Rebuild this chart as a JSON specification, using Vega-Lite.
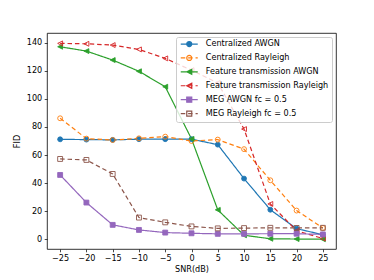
{
  "$schema": "https://vega.github.io/schema/vega-lite/v6.json",
  "width": 289,
  "height": 216,
  "autosize": {"type": "none"},
  "padding": {"left": 47, "top": 33, "right": 38, "bottom": 31},
  "background": "white",
  "config": {
    "font": "DejaVu Sans",
    "view": {"stroke": "black", "strokeWidth": 0.8},
    "axis": {
      "grid": false, "domain": false, "tickColor": "black", "tickSize": 2.8, "tickWidth": 0.7,
      "labelFont": "DejaVu Sans", "labelFontSize": 8.1, "labelColor": "black", "labelPadding": 2.5,
      "titleFont": "DejaVu Sans", "titleFontSize": 8.1, "titleFontWeight": "normal", "titleColor": "black"
    },
    "legend": {
      "orient": "top-right", "offset": 4, "padding": 3, "fillColor": "rgba(255,255,255,0.8)",
      "strokeColor": "#cccccc", "cornerRadius": 2, "labelFont": "DejaVu Sans", "labelFontSize": 8.1,
      "labelColor": "black", "symbolSize": 25, "symbolStrokeWidth": 1.2, "symbolOffset": 6.2,
      "labelOffset": 12.5, "rowPadding": 3.9, "labelLimit": 300
    }
  },
  "data": {"values": [
    {"snr": -25, "fid": 71.2, "series": "Centralized AWGN"},
    {"snr": -20, "fid": 71.0, "series": "Centralized AWGN"},
    {"snr": -15, "fid": 70.8, "series": "Centralized AWGN"},
    {"snr": -10, "fid": 71.3, "series": "Centralized AWGN"},
    {"snr": -5, "fid": 71.3, "series": "Centralized AWGN"},
    {"snr": 0, "fid": 71.3, "series": "Centralized AWGN"},
    {"snr": 5, "fid": 67.4, "series": "Centralized AWGN"},
    {"snr": 10, "fid": 43.2, "series": "Centralized AWGN"},
    {"snr": 15, "fid": 21.0, "series": "Centralized AWGN"},
    {"snr": 20, "fid": 7.5, "series": "Centralized AWGN"},
    {"snr": 25, "fid": 3.2, "series": "Centralized AWGN"},
    {"snr": -25, "fid": 86.2, "series": "Centralized Rayleigh"},
    {"snr": -20, "fid": 71.7, "series": "Centralized Rayleigh"},
    {"snr": -15, "fid": 70.7, "series": "Centralized Rayleigh"},
    {"snr": -10, "fid": 71.9, "series": "Centralized Rayleigh"},
    {"snr": -5, "fid": 73.1, "series": "Centralized Rayleigh"},
    {"snr": 0, "fid": 70.0, "series": "Centralized Rayleigh"},
    {"snr": 5, "fid": 71.0, "series": "Centralized Rayleigh"},
    {"snr": 10, "fid": 64.2, "series": "Centralized Rayleigh"},
    {"snr": 15, "fid": 42.0, "series": "Centralized Rayleigh"},
    {"snr": 20, "fid": 20.4, "series": "Centralized Rayleigh"},
    {"snr": 25, "fid": 8.0, "series": "Centralized Rayleigh"},
    {"snr": -25, "fid": 137.2, "series": "Feature transmission AWGN"},
    {"snr": -20, "fid": 134.1, "series": "Feature transmission AWGN"},
    {"snr": -15, "fid": 127.7, "series": "Feature transmission AWGN"},
    {"snr": -10, "fid": 119.7, "series": "Feature transmission AWGN"},
    {"snr": -5, "fid": 108.7, "series": "Feature transmission AWGN"},
    {"snr": 0, "fid": 71.5, "series": "Feature transmission AWGN"},
    {"snr": 5, "fid": 20.9, "series": "Feature transmission AWGN"},
    {"snr": 10, "fid": 2.8, "series": "Feature transmission AWGN"},
    {"snr": 15, "fid": 0.3, "series": "Feature transmission AWGN"},
    {"snr": 20, "fid": 0.1, "series": "Feature transmission AWGN"},
    {"snr": 25, "fid": 0.0, "series": "Feature transmission AWGN"},
    {"snr": -25, "fid": 139.6, "series": "Feature transmission Rayleigh"},
    {"snr": -20, "fid": 139.3, "series": "Feature transmission Rayleigh"},
    {"snr": -15, "fid": 138.4, "series": "Feature transmission Rayleigh"},
    {"snr": -10, "fid": 135.3, "series": "Feature transmission Rayleigh"},
    {"snr": -5, "fid": 128.9, "series": "Feature transmission Rayleigh"},
    {"snr": 0, "fid": 120.5, "series": "Feature transmission Rayleigh"},
    {"snr": 5, "fid": 111.4, "series": "Feature transmission Rayleigh"},
    {"snr": 10, "fid": 78.5, "series": "Feature transmission Rayleigh"},
    {"snr": 15, "fid": 25.1, "series": "Feature transmission Rayleigh"},
    {"snr": 20, "fid": 6.0, "series": "Feature transmission Rayleigh"},
    {"snr": 25, "fid": 0.5, "series": "Feature transmission Rayleigh"},
    {"snr": -25, "fid": 45.8, "series": "MEG AWGN fc = 0.5"},
    {"snr": -20, "fid": 26.1, "series": "MEG AWGN fc = 0.5"},
    {"snr": -15, "fid": 10.2, "series": "MEG AWGN fc = 0.5"},
    {"snr": -10, "fid": 6.6, "series": "MEG AWGN fc = 0.5"},
    {"snr": -5, "fid": 4.7, "series": "MEG AWGN fc = 0.5"},
    {"snr": 0, "fid": 4.2, "series": "MEG AWGN fc = 0.5"},
    {"snr": 5, "fid": 3.8, "series": "MEG AWGN fc = 0.5"},
    {"snr": 10, "fid": 3.8, "series": "MEG AWGN fc = 0.5"},
    {"snr": 15, "fid": 3.9, "series": "MEG AWGN fc = 0.5"},
    {"snr": 20, "fid": 3.9, "series": "MEG AWGN fc = 0.5"},
    {"snr": 25, "fid": 3.4, "series": "MEG AWGN fc = 0.5"},
    {"snr": -25, "fid": 57.2, "series": "MEG Rayleigh fc = 0.5"},
    {"snr": -20, "fid": 56.5, "series": "MEG Rayleigh fc = 0.5"},
    {"snr": -15, "fid": 46.5, "series": "MEG Rayleigh fc = 0.5"},
    {"snr": -10, "fid": 15.4, "series": "MEG Rayleigh fc = 0.5"},
    {"snr": -5, "fid": 12.0, "series": "MEG Rayleigh fc = 0.5"},
    {"snr": 0, "fid": 9.1, "series": "MEG Rayleigh fc = 0.5"},
    {"snr": 5, "fid": 7.7, "series": "MEG Rayleigh fc = 0.5"},
    {"snr": 10, "fid": 7.9, "series": "MEG Rayleigh fc = 0.5"},
    {"snr": 15, "fid": 8.1, "series": "MEG Rayleigh fc = 0.5"},
    {"snr": 20, "fid": 8.0, "series": "MEG Rayleigh fc = 0.5"},
    {"snr": 25, "fid": 8.1, "series": "MEG Rayleigh fc = 0.5"}
  ]},
  "encoding": {
    "x": {"field": "snr", "type": "quantitative",
      "scale": {"domain": [-27.5, 27.5], "nice": false, "zero": false},
      "axis": {"values": [-25, -20, -15, -10, -5, 0, 5, 10, 15, 20, 25], "title": "SNR(dB)", "titlePadding": 3}},
    "y": {"field": "fid", "type": "quantitative",
      "scale": {"domain": [-7, 147], "nice": false, "zero": false},
      "axis": {"values": [0, 20, 40, 60, 80, 100, 120, 140], "title": "FID", "titlePadding": 5}}
  },
  "layer": [
    {
      "mark": {"type": "line", "strokeWidth": 1.2},
      "encoding": {
        "stroke": {"field": "series", "type": "nominal", "legend": null,
          "scale": {"domain": ["Centralized AWGN", "Centralized Rayleigh", "Feature transmission AWGN", "Feature transmission Rayleigh", "MEG AWGN fc = 0.5", "MEG Rayleigh fc = 0.5"],
            "range": ["#1f77b4", "#ff7f0e", "#2ca02c", "#d62728", "#9467bd", "#8c564b"]}},
        "strokeDash": {"field": "series", "type": "nominal", "legend": null,
          "scale": {"domain": ["Centralized AWGN", "Centralized Rayleigh", "Feature transmission AWGN", "Feature transmission Rayleigh", "MEG AWGN fc = 0.5", "MEG Rayleigh fc = 0.5"],
            "range": [[1, 0], [4.5, 2.9], [1, 0], [4.5, 2.9], [1, 0], [4.5, 2.9]]}}
      }
    },
    {
      "mark": {"type": "point", "opacity": 1, "strokeWidth": 0.9, "size": 24},
      "encoding": {
        "stroke": {"field": "series", "type": "nominal", "legend": null,
          "scale": {"domain": ["Centralized AWGN", "Centralized Rayleigh", "Feature transmission AWGN", "Feature transmission Rayleigh", "MEG AWGN fc = 0.5", "MEG Rayleigh fc = 0.5"],
            "range": ["#1f77b4", "#ff7f0e", "#2ca02c", "#d62728", "#9467bd", "#8c564b"]}},
        "fill": {"field": "series", "type": "nominal", "legend": null,
          "scale": {"domain": ["Centralized AWGN", "Centralized Rayleigh", "Feature transmission AWGN", "Feature transmission Rayleigh", "MEG AWGN fc = 0.5", "MEG Rayleigh fc = 0.5"],
            "range": ["#1f77b4", "transparent", "#2ca02c", "transparent", "#9467bd", "transparent"]}},
        "shape": {"field": "series", "type": "nominal", "legend": null,
          "scale": {"domain": ["Centralized AWGN", "Centralized Rayleigh", "Feature transmission AWGN", "Feature transmission Rayleigh", "MEG AWGN fc = 0.5", "MEG Rayleigh fc = 0.5"],
            "range": ["circle", "circle", "M-1,0L1,-1L1,1Z", "M-1,0L1,-1L1,1Z", "square", "square"]}}
      }
    },
    {
      "transform": [{"filter": "false"}],
      "mark": {"type": "point", "opacity": 1, "strokeWidth": 1.2},
      "encoding": {
        "stroke": {"field": "series", "type": "nominal", "title": null,
          "scale": {"domain": ["Centralized AWGN", "Centralized Rayleigh", "Feature transmission AWGN", "Feature transmission Rayleigh", "MEG AWGN fc = 0.5", "MEG Rayleigh fc = 0.5"],
            "range": ["#1f77b4", "#ff7f0e", "#2ca02c", "#d62728", "#9467bd", "#8c564b"]}},
        "fill": {"field": "series", "type": "nominal", "title": null,
          "scale": {"domain": ["Centralized AWGN", "Centralized Rayleigh", "Feature transmission AWGN", "Feature transmission Rayleigh", "MEG AWGN fc = 0.5", "MEG Rayleigh fc = 0.5"],
            "range": ["#1f77b4", "transparent", "#2ca02c", "transparent", "#9467bd", "transparent"]}},
        "shape": {"field": "series", "type": "nominal", "title": null,
          "scale": {"domain": ["Centralized AWGN", "Centralized Rayleigh", "Feature transmission AWGN", "Feature transmission Rayleigh", "MEG AWGN fc = 0.5", "MEG Rayleigh fc = 0.5"],
            "range": [
              "M-3.4,0H3.4M-1,0A1,1,0,1,0,1,0A1,1,0,1,0,-1,0Z",
              "M-3.4,0H-1.6M-0.44,0H1.36M2.52,0H3.4M-1,0A1,1,0,1,0,1,0A1,1,0,1,0,-1,0Z",
              "M-3.4,0H3.4M-1,0L1,-1L1,1Z",
              "M-3.4,0H-1.6M-0.44,0H1.36M2.52,0H3.4M-1,0L1,-1L1,1Z",
              "M-3.4,0H3.4M-1,-1H1V1H-1Z",
              "M-3.4,0H-1.6M-0.44,0H1.36M2.52,0H3.4M-1,-1H1V1H-1Z"
            ]}}
      }
    }
  ],
  "resolve": {"scale": {"stroke": "independent", "fill": "independent", "shape": "independent", "strokeDash": "independent"}}
}
